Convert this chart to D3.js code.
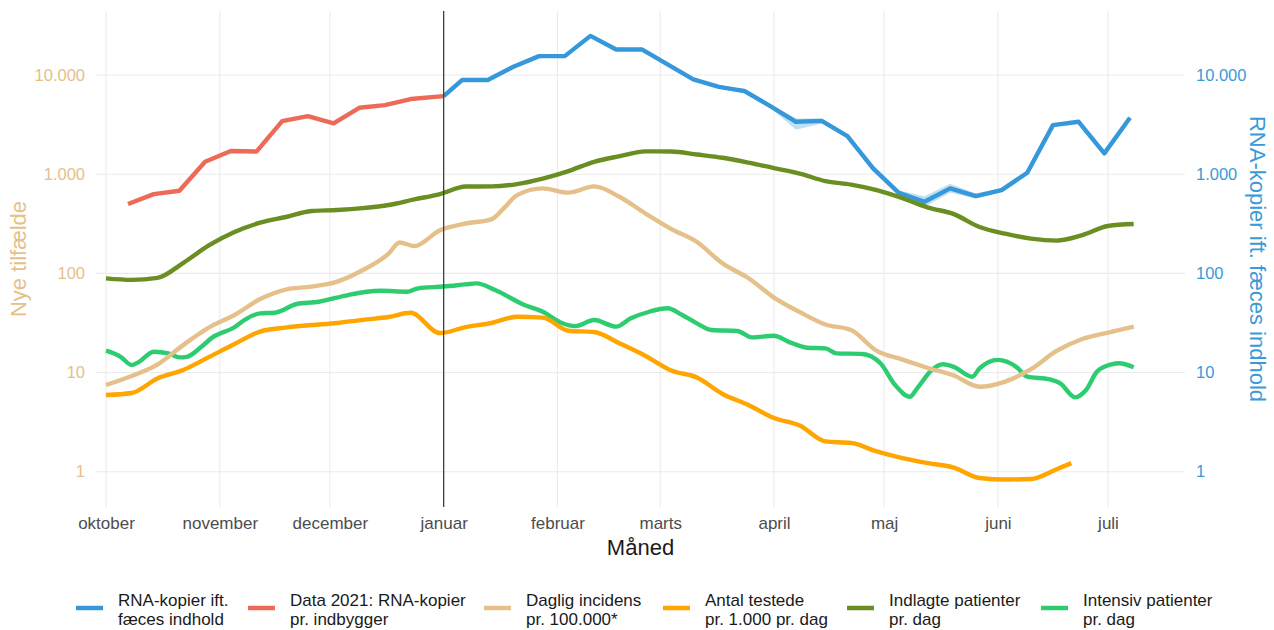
<!DOCTYPE html>
<html><head><meta charset="utf-8">
<script src="https://cdn.jsdelivr.net/npm/d3@7"></script>
<style>
body{margin:0;background:#fff}
svg{display:block}
text{font-family:"Liberation Sans",Arial,sans-serif}
</style>
</head><body>
<svg id="chart" width="1274" height="630"></svg>
<script>
// ---------- DATA ----------
const weekDates = ["2020-10-01","2020-10-08","2020-10-15","2020-10-22","2020-10-29","2020-11-05","2020-11-12","2020-11-19","2020-11-26","2020-12-03","2020-12-10","2020-12-17","2020-12-24","2020-12-31","2021-01-07","2021-01-14","2021-01-21","2021-01-28","2021-02-04","2021-02-11","2021-02-18","2021-02-25","2021-03-04","2021-03-11","2021-03-18","2021-03-25","2021-04-01","2021-04-08","2021-04-15","2021-04-22","2021-04-29","2021-05-06","2021-05-13","2021-05-20","2021-05-27","2021-06-03","2021-06-10","2021-06-17","2021-06-24","2021-07-01","2021-07-08"];

const indlagte = [89,86,90,127,191,261,324,370,425,435,455,489,557,630,750,754,795,903,1075,1333,1520,1698,1690,1577,1463,1309,1152,1014,851,785,691,574,461,396,293,251,224,214,243,300,314];

const incidensDates = ["2020-10-01","2020-10-08","2020-10-15","2020-10-22","2020-10-29","2020-11-05","2020-11-12","2020-11-19","2020-11-26","2020-12-03","2020-12-10","2020-12-17","2020-12-20","2020-12-24","2020-12-31","2021-01-07","2021-01-14","2021-01-18","2021-01-21","2021-01-28","2021-02-04","2021-02-11","2021-02-18","2021-02-25","2021-03-04","2021-03-11","2021-03-18","2021-03-25","2021-04-01","2021-04-08","2021-04-15","2021-04-22","2021-04-29","2021-05-06","2021-05-13","2021-05-20","2021-05-27","2021-06-03","2021-06-10","2021-06-17","2021-06-24","2021-07-01","2021-07-08"];
const incidens = [7.48,9.22,12.0,18.9,28.4,38.0,55.1,68.7,73.6,82.6,108,158,205,188,272,318,350,480,615,719,651,754,588,401,280,207,126,89.7,57.0,40.7,30.5,26.8,16.5,13.5,11.1,9.33,7.19,8.11,10.8,16.5,21.8,25.3,29.1];

const testedeDates = ["2020-10-01","2020-10-08","2020-10-15","2020-10-22","2020-10-29","2020-11-05","2020-11-12","2020-11-19","2020-11-26","2020-12-03","2020-12-10","2020-12-17","2020-12-23","2020-12-31","2021-01-07","2021-01-14","2021-01-21","2021-01-28","2021-02-04","2021-02-11","2021-02-18","2021-02-25","2021-03-04","2021-03-11","2021-03-18","2021-03-25","2021-04-01","2021-04-08","2021-04-15","2021-04-22","2021-04-29","2021-05-06","2021-05-13","2021-05-20","2021-05-27","2021-06-03","2021-06-10","2021-06-17","2021-06-21"];
const testede = [5.93,6.21,8.70,10.6,14.3,19.4,25.9,28.4,30.1,31.6,34.0,36.3,40,25.0,28.7,31.6,36.5,35.8,26.4,25.6,19.6,14.7,10.5,8.91,6.07,4.70,3.48,2.92,2.02,1.95,1.60,1.37,1.22,1.10,0.864,0.834,0.844,1.06,1.22];

const intensivDates = ["2020-10-01","2020-10-05","2020-10-08","2020-10-10","2020-10-14","2020-10-18","2020-10-21","2020-10-23","2020-10-27","2020-10-30","2020-11-05","2020-11-08","2020-11-12","2020-11-16","2020-11-22","2020-11-28","2020-12-02","2020-12-06","2020-12-11","2020-12-15","2020-12-22","2020-12-25","2021-01-01","2021-01-07","2021-01-10","2021-01-15","2021-01-23","2021-01-28","2021-02-02","2021-02-06","2021-02-11","2021-02-17","2021-02-21","2021-02-26","2021-03-03","2021-03-07","2021-03-11","2021-03-15","2021-03-22","2021-03-26","2021-04-01","2021-04-05","2021-04-10","2021-04-15","2021-04-18","2021-04-25","2021-04-30","2021-05-04","2021-05-08","2021-05-10","2021-05-14","2021-05-17","2021-05-20","2021-05-25","2021-05-27","2021-06-01","2021-06-06","2021-06-09","2021-06-15","2021-06-18","2021-06-22","2021-06-25","2021-06-28","2021-07-02","2021-07-04","2021-07-08"];
const intensiv = [16.6,14.4,11.9,12.8,16.2,15.6,14.2,14.4,18.2,22.6,28.6,34.4,39.5,40.1,49.1,51.7,56.0,60.4,65.3,66.8,65.3,70.6,73.6,77.4,79.3,67.9,47.9,41.0,31.8,29.4,33.8,29.0,35.2,41.0,44.4,38.0,31.3,26.8,26.2,22.6,23.5,20.4,17.8,17.5,15.6,15.4,12.4,7.48,5.70,6.93,10.6,12.1,11.4,9.07,11.0,13.4,11.4,9.07,8.53,7.78,5.62,6.66,10.2,12.1,12.4,11.3];

const rnaDates = ["2021-01-01","2021-01-06","2021-01-13","2021-01-20","2021-01-27","2021-02-03","2021-02-10","2021-02-17","2021-02-24","2021-03-03","2021-03-10","2021-03-17","2021-03-24","2021-03-31","2021-04-07","2021-04-14","2021-04-21","2021-04-28","2021-05-05","2021-05-12","2021-05-19","2021-05-26","2021-06-02","2021-06-09","2021-06-16","2021-06-23","2021-06-30","2021-07-07"];
const rna     = [6130,8890,8890,12100,15500,15500,24800,18100,18100,12800,9030,7600,6880,4860,3375,3450,2420,1143,649,527,719,601,691,1033,3125,3375,1620,3705];
const rnaLow  = [6000,8700,8700,11800,15200,15200,24300,17700,17700,12500,8800,7400,6500,4650,2800,3250,2350,1100,610,470,650,570,660,1000,3030,3270,1570,3600];
const rnaHigh = [6250,9050,9050,12400,15800,15800,25300,18500,18500,13100,9250,7800,7300,5050,3650,3650,2500,1190,690,600,800,640,725,1070,3220,3480,1670,3810];

const rna2020Dates = ["2020-10-07","2020-10-14","2020-10-21","2020-10-28","2020-11-04","2020-11-11","2020-11-18","2020-11-25","2020-12-02","2020-12-09","2020-12-16","2020-12-23","2021-01-01"];
const rna2020 = [500,630,680,1333,1710,1690,3430,3850,3250,4670,4970,5720,6130];

const monthTicks  = ["2020-10-01","2020-11-01","2020-12-01","2021-01-01","2021-02-01","2021-03-01","2021-04-01","2021-05-01","2021-06-01","2021-07-01"];
const monthLabels = ["oktober","november","december","januar","februar","marts","april","maj","juni","juli"];
const yTicks = [1,10,100,1000,10000];
const breakDate = "2021-01-01";

const legendLabels = [["RNA-kopier ift.","fæces indhold"],["Data 2021: RNA-kopier","pr. indbygger"],["Daglig incidens","pr. 100.000*"],["Antal testede","pr. 1.000 pr. dag"],["Indlagte patienter","pr. dag"],["Intensiv patienter","pr. dag"]];
const seriesColors = ["#3498db","#ec6a57","#e5c08a","#ffa500","#6b8e23","#2ecc71"];

// ---------- CHART ----------
const parse = d3.utcParse("%Y-%m-%d");
const svg = d3.select("#chart");
const panel = {left:96, right:1185, top:11, bottom:507};

const x = d3.scaleUtc()
  .domain([parse(monthTicks[0]), parse(monthTicks[monthTicks.length-1])])
  .range([106, 1108]);
const y = d3.scaleLog().domain([1, 10000]).range([471.7, 75]);

const dk = d3.formatLocale({decimal:",", thousands:".", grouping:[3], currency:["","kr"]});
const fmt = dk.format(",");

// grid
const grid = svg.append("g");
grid.selectAll("line.v").data(monthTicks).join("line")
  .attr("x1", d=>x(parse(d))).attr("x2", d=>x(parse(d)))
  .attr("y1", panel.top).attr("y2", panel.bottom)
  .attr("stroke", "#ebebeb").attr("stroke-width", 1.1);
grid.selectAll("line.h").data(yTicks).join("line")
  .attr("x1", panel.left).attr("x2", panel.right)
  .attr("y1", d=>y(d)).attr("y2", d=>y(d))
  .attr("stroke", "#ebebeb").attr("stroke-width", 1.1);

// axes
const xAxis = d3.axisBottom(x).tickValues(monthTicks.map(parse)).tickFormat((d,i)=>monthLabels[i]).tickSize(0).tickPadding(0);
const gx = svg.append("g").attr("transform", `translate(0,${panel.bottom+22})`).call(xAxis);
gx.select(".domain").remove();
gx.selectAll("text").attr("fill","#4d4d4d").attr("font-size",17).attr("dy","0");

const yLeft = d3.axisLeft(y).tickValues(yTicks).tickFormat(fmt).tickSize(0).tickPadding(0);
const gl = svg.append("g").attr("transform","translate(85,0)").call(yLeft);
gl.select(".domain").remove();
gl.selectAll("text").attr("fill","#e5c08a").attr("font-size",16.5);

const yRight = d3.axisRight(y).tickValues(yTicks).tickFormat(fmt).tickSize(0).tickPadding(0);
const gr = svg.append("g").attr("transform","translate(1196,0)").call(yRight);
gr.select(".domain").remove();
gr.selectAll("text").attr("fill","#3a9ad9").attr("font-size",16.5);

// axis titles
svg.append("text").attr("x",640.5).attr("y",555).attr("text-anchor","middle")
  .attr("font-size",22).attr("fill","#1a1a1a").text("Måned");
svg.append("text").attr("transform","translate(26,259) rotate(-90)").attr("text-anchor","middle")
  .attr("font-size",22).attr("fill","#e5c08a").text("Nye tilfælde");
svg.append("text").attr("transform","translate(1250,259) rotate(90)").attr("text-anchor","middle")
  .attr("font-size",22).attr("fill","#3a9ad9").text("RNA-kopier ift. fæces indhold");

// series
const mk = (dates, vals) => dates.map((d,i)=>({date:parse(d), v:vals[i]}));
const lineLin = d3.line().x(d=>x(d.date)).y(d=>y(d.v));
const lineSm = d3.line().x(d=>x(d.date)).y(d=>y(d.v)).curve(d3.curveMonotoneX);

const ribbonData = rnaDates.map((d,i)=>({date:parse(d), lo:rnaLow[i], hi:rnaHigh[i]}));
svg.append("path").datum(ribbonData)
  .attr("d", d3.area().x(d=>x(d.date)).y0(d=>y(d.lo)).y1(d=>y(d.hi)))
  .attr("fill", seriesColors[0]).attr("fill-opacity", 0.3);

const lines = [
  {data: mk(rnaDates, rna), gen: lineLin, c: seriesColors[0]},
  {data: mk(rna2020Dates, rna2020), gen: lineLin, c: seriesColors[1]},
  {data: mk(intensivDates, intensiv), gen: lineSm, c: seriesColors[5]},
  {data: mk(testedeDates, testede), gen: lineSm, c: seriesColors[3]},
  {data: mk(incidensDates, incidens), gen: lineSm, c: seriesColors[2]},
  {data: mk(weekDates, indlagte), gen: lineSm, c: seriesColors[4]}
];
lines.forEach(s=>{
  svg.append("path").datum(s.data).attr("d", s.gen)
    .attr("fill","none").attr("stroke", s.c).attr("stroke-width", 4.4)
    .attr("stroke-linejoin","round").attr("stroke-linecap","butt");
});

// vertical break line
svg.append("line")
  .attr("x1", x(parse(breakDate))).attr("x2", x(parse(breakDate)))
  .attr("y1", panel.top).attr("y2", panel.bottom)
  .attr("stroke", "#333").attr("stroke-width", 1.2);

// legend
const keyX = [76, 248, 484, 663, 847, 1041];
const lg = svg.append("g");
legendLabels.forEach((lab,i)=>{
  lg.append("line").attr("x1", keyX[i]).attr("x2", keyX[i]+27)
    .attr("y1", 608).attr("y2", 608).attr("stroke", seriesColors[i]).attr("stroke-width", 4.5);
  const t = lg.append("text").attr("x", keyX[i]+42).attr("y", 606).attr("font-size",17).attr("fill","#1a1a1a");
  t.append("tspan").attr("x", keyX[i]+42).attr("y",606).text(lab[0]);
  t.append("tspan").attr("x", keyX[i]+42).attr("y",625).text(lab[1]);
});
</script>
</body></html>
